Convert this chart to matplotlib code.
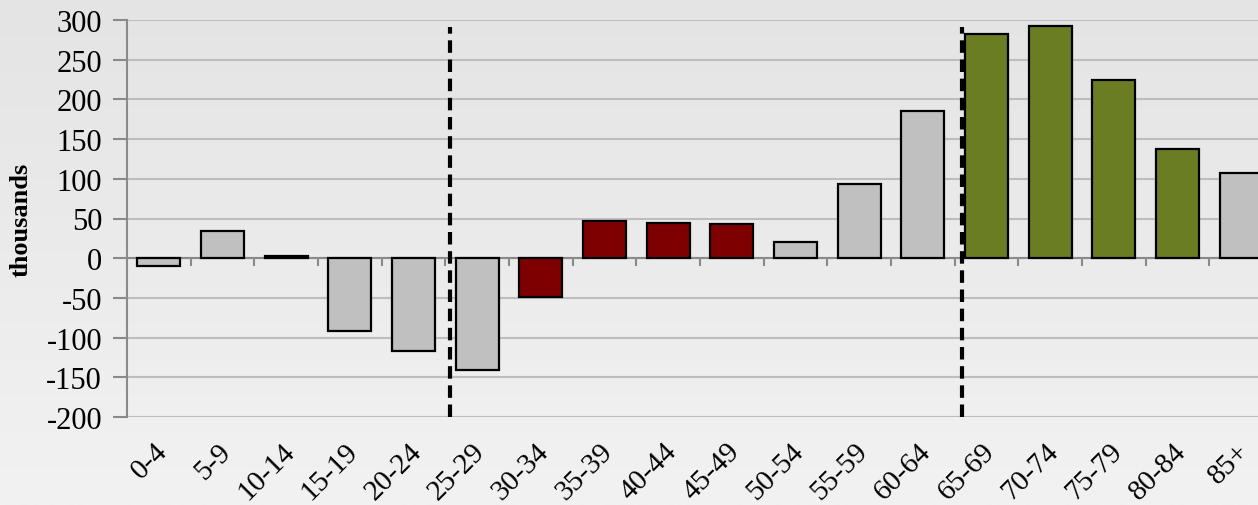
import matplotlib
matplotlib.use("Agg")
import matplotlib.pyplot as plt
import matplotlib.transforms as mtrans
from matplotlib.colors import LinearSegmentedColormap
import numpy as np

categories = ["0-4", "5-9", "10-14", "15-19", "20-24", "25-29", "30-34", "35-39",
              "40-44", "45-49", "50-54", "55-59", "60-64", "65-69", "70-74",
              "75-79", "80-84", "85+"]
values = [-10, 34, 3, -92, -117, -141, -49, 47, 44, 43, 21, 93, 185,
          282, 292, 225, 137, 107]
groups = ["other", "other", "other", "other", "other", "other", "red", "red",
          "red", "red", "other", "other", "other", "green", "green", "green",
          "green", "other"]
yticks = [-200, -150, -100, -50, 0, 50, 100, 150, 200, 250, 300]
divider_positions = [4.58, 12.62]
divider_top = 291

colors = {"other": "#c0c0c0", "red": "#7f0000", "green": "#6b7d22"}

plt.rcParams['font.family'] = ['Liberation Serif', 'DejaVu Serif']

W, H = 1258, 506
fig = plt.figure(figsize=(W / 100, H / 100), dpi=100)

# background gradient
bg = fig.add_axes([0, 0, 1, 1], zorder=-10)
grad = np.linspace(0, 1, 256).reshape(-1, 1)
cmap = LinearSegmentedColormap.from_list("bg", ["#e4e4e4", "#f2f2f2"])
bg.imshow(grad, aspect="auto", cmap=cmap, extent=[0, 1, 0, 1], origin="upper")
bg.set_axis_off()

left = 127 / W
right = 1273 / W
top = 1 - 21 / H
bottom = 1 - 418 / H
ax = fig.add_axes([left, bottom, right - left, top - bottom])
ax.patch.set_alpha(0)

x = np.arange(len(categories))
ax.bar(x, values, width=0.675, color=[colors[g] for g in groups],
       edgecolor="black", linewidth=1.6, zorder=3)

ax.set_xlim(-0.5, len(categories) - 0.5)
ax.set_ylim(-200, 300)
ax.set_yticks(yticks)
ax.set_yticklabels([str(v) for v in yticks], fontsize=22)
ax.yaxis.grid(True, color="#bdbdbd", linewidth=1.5, zorder=0)
ax.set_axisbelow(True)

for s in ["top", "right", "bottom"]:
    ax.spines[s].set_visible(False)
ax.spines["left"].set_color("#8a8a8a")
ax.spines["left"].set_linewidth(1.5)
ax.tick_params(axis="y", direction="out", length=10, width=1.5, color="#8a8a8a", pad=8)

# zero line with category-boundary ticks
ax.axhline(0, color="#8a8a8a", linewidth=1.5, zorder=2)
for b in np.arange(0.5, len(categories) - 0.5, 1.0):
    ax.plot([b, b], [0, -9.5], color="#8a8a8a", linewidth=1.5, zorder=2,
            solid_capstyle="butt")

# dashed dividers
for d in divider_positions:
    ax.plot([d, d], [-200, divider_top], color="black", linewidth=3,
            linestyle=(0, (3.0, 1.6)), zorder=4)

# x labels
ax.set_xticks(x)
ax.set_xticklabels(categories, rotation=45, ha="right", rotation_mode="anchor",
                   fontsize=21)
ax.tick_params(axis="x", length=0, pad=15)
offset = mtrans.ScaledTranslation(-5 / 100, 0, fig.dpi_scale_trans)
for lbl in ax.get_xticklabels():
    lbl.set_transform(lbl.get_transform() + offset)

ax.set_ylabel("thousands", fontsize=19, fontweight="bold")
ax.yaxis.set_label_coords(-0.082, 0.5)

fig.savefig("out.png", dpi=100)
